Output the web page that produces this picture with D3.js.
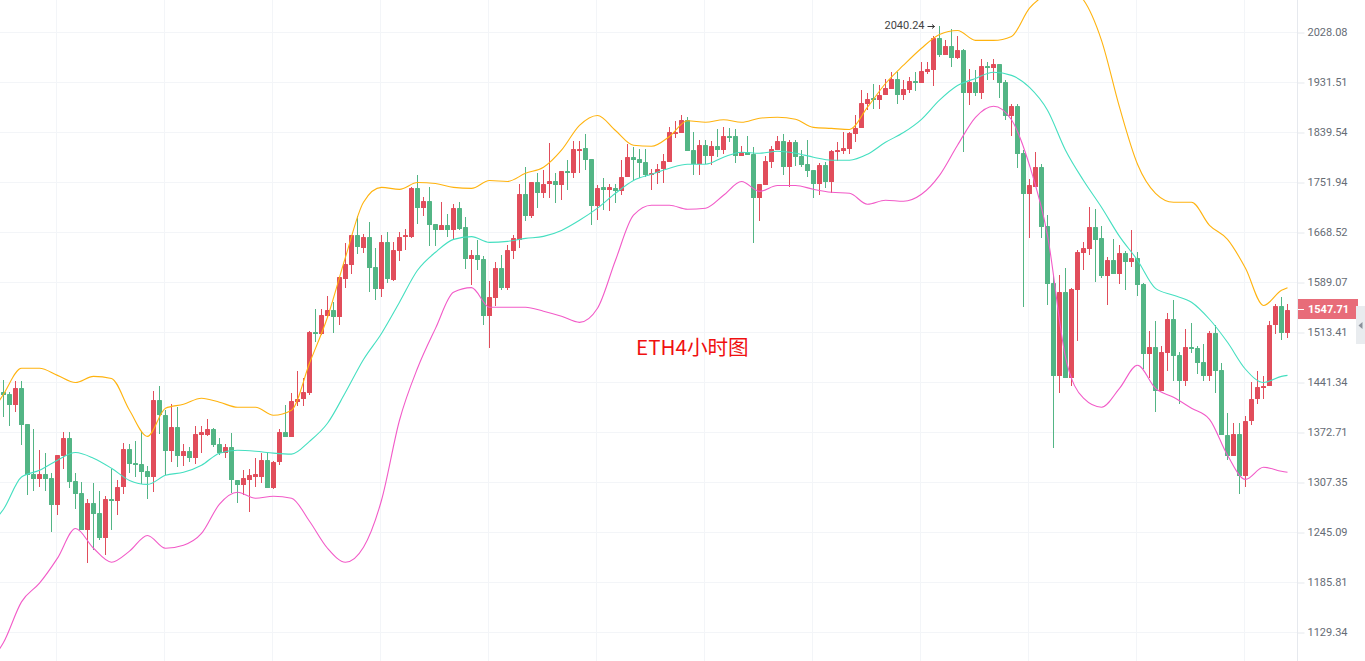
<!DOCTYPE html>
<html lang="zh-CN">
<head>
  <meta charset="UTF-8">
  <title>ETH4小时图</title>
  <script src="https://d3js.org/d3.v7.min.js"></script>
  <style>
    * { margin: 0; padding: 0; }
    html, body { height: 100%; background: #fff; overflow: hidden; }
    svg { display: block; }
    .grid line { stroke: #f3f5f8; stroke-width: 1; }
    .axis path, .axis line { stroke: #e6e9ee; }
    .axis text { font: 11px Roboto, sans-serif; fill: #666c75; }
  </style>
</head>
<body>
  <svg id="chart" width="1365" height="661"></svg>
  <script>
    // ohlc per candle
    var opens = [
      1428,1425,1410,1434,1384,1318,1312,1318,1313,1279,1342,1366,1309,1294,1248,1281,1269,1238,1287,1284,
      1302,1351,1332,1331,1322,1314,1417,1397,1348,1380,1341,1348,1339,1370,1370,1378,1357,1346,1354,1311,
      1304,1311,1315,1315,1337,1300,1334,1374,1367,1414,1418,1426,1514,1511,1538,1547,1537,1595,1616,1664,
      1644,1662,1613,1579,1653,1593,1638,1661,1661,1742,1709,1720,1682,1672,1680,1672,1709,1677,1626,1632,
      1626,1538,1565,1612,1580,1638,1657,1732,1695,1752,1734,1749,1754,1747,1771,1768,1808,1812,1792,1712,
      1744,1740,1742,1737,1761,1796,1792,1787,1764,1768,1775,1787,1838,1838,1862,1808,1784,1817,1798,1815,
      1808,1834,1833,1798,1805,1801,1725,1747,1787,1808,1824,1778,1822,1798,1784,1773,1750,1782,1752,1805,
      1806,1810,1836,1847,1892,1902,1898,1908,1920,1939,1909,1917,1934,1930,1952,1955,2017,1984,2001,1978,
      1993,1911,1933,1911,1962,1959,1966,1933,1869,1887,1803,1732,1745,1778,1679,1588,1451,1574,1447,1577,
      1636,1642,1677,1659,1599,1624,1603,1635,1621,1627,1586,1482,1492,1430,1483,1533,1480,1444,1492,1490,
      1470,1451,1512,1459,1370,1341,1371,1316,1388,1418,1433,1436,1524,1553,1512
    ];
    var highs = [
      1445,1428,1444,1443,1384,1378,1349,1345,1320,1343,1374,1374,1319,1308,1287,1307,1297,1290,1325,1310,
      1359,1358,1361,1374,1328,1429,1436,1403,1411,1407,1358,1354,1381,1381,1391,1379,1365,1358,1372,1311,
      1323,1325,1339,1345,1345,1335,1377,1410,1426,1457,1447,1515,1548,1548,1569,1559,1597,1651,1665,1695,
      1666,1685,1643,1665,1670,1653,1669,1675,1745,1765,1727,1744,1682,1719,1699,1715,1719,1694,1640,1656,
      1630,1591,1621,1632,1648,1665,1750,1778,1752,1768,1773,1820,1769,1771,1791,1825,1825,1836,1792,1748,
      1759,1750,1750,1790,1819,1813,1810,1810,1775,1783,1801,1850,1861,1872,1867,1840,1826,1826,1824,1845,
      1849,1847,1845,1815,1833,1814,1749,1798,1815,1834,1836,1827,1827,1809,1826,1773,1785,1787,1808,1822,
      1840,1841,1871,1917,1912,1929,1926,1939,1951,1951,1937,1941,1951,1971,1971,2022,2040.24,2013,2036,2022,
      1995,1957,1955,1976,1970,1976,1966,1937,1892,1891,1808,1758,1805,1784,1697,1600,1600,1611,1580,1641,
      1653,1711,1707,1679,1629,1658,1648,1638,1672,1637,1588,1515,1530,1494,1542,1562,1485,1518,1528,1494,
      1496,1515,1524,1469,1399,1385,1385,1395,1442,1457,1451,1531,1556,1566,1556
    ];
    var lows = [
      1394,1381,1401,1356,1292,1297,1301,1297,1246,1267,1325,1300,1274,1248,1208,1224,1236,1218,1248,1266,
      1293,1320,1314,1306,1287,1295,1371,1317,1334,1327,1329,1334,1331,1346,1368,1354,1343,1339,1294,1282,
      1292,1270,1302,1307,1300,1299,1330,1367,1367,1408,1408,1424,1499,1510,1537,1513,1524,1581,1602,1634,
      1635,1574,1562,1566,1589,1591,1623,1640,1659,1683,1695,1646,1646,1672,1662,1656,1672,1610,1585,1608,
      1525,1491,1553,1577,1578,1626,1643,1687,1693,1709,1725,1725,1717,1722,1739,1759,1768,1774,1680,1689,
      1705,1704,1718,1730,1761,1757,1759,1762,1740,1749,1751,1787,1829,1838,1806,1764,1764,1784,1782,1796,
      1801,1822,1785,1797,1799,1652,1688,1747,1777,1808,1764,1744,1780,1778,1762,1725,1730,1742,1734,1789,
      1801,1801,1822,1847,1880,1882,1883,1908,1920,1891,1898,1911,1915,1930,1948,1924,1980,1984,1961,1976,
      1804,1890,1906,1900,1937,1937,1902,1862,1834,1777,1552,1660,1745,1659,1554,1352,1426,1447,1436,1501,
      1608,1632,1590,1596,1555,1603,1587,1578,1613,1568,1460,1448,1401,1430,1458,1444,1411,1437,1483,1453,
      1444,1444,1426,1369,1336,1341,1293,1301,1383,1411,1419,1436,1511,1503,1506
    ];
    var closes = [
      1424,1410,1434,1383,1317,1312,1318,1312,1279,1343,1366,1308,1293,1248,1281,1268,1238,1287,1284,1302,
      1351,1331,1330,1321,1314,1417,1397,1348,1380,1341,1348,1339,1371,1373,1378,1356,1345,1354,1310,1304,
      1313,1317,1318,1337,1300,1334,1374,1367,1415,1419,1428,1514,1511,1539,1547,1537,1597,1618,1664,1645,
      1662,1611,1579,1653,1594,1640,1662,1664,1742,1709,1720,1680,1672,1680,1672,1709,1675,1626,1632,1624,
      1538,1566,1612,1580,1640,1659,1732,1695,1752,1734,1750,1754,1747,1771,1768,1810,1811,1791,1712,1742,
      1740,1744,1737,1762,1796,1791,1785,1764,1769,1776,1789,1840,1841,1862,1806,1784,1817,1798,1815,1808,
      1833,1831,1798,1805,1799,1725,1749,1789,1810,1824,1778,1822,1796,1782,1771,1750,1782,1752,1806,1808,
      1812,1838,1848,1894,1900,1898,1909,1922,1939,1909,1919,1934,1930,1953,1957,2017,1984,2001,1978,1993,
      1911,1933,1911,1962,1959,1966,1931,1869,1887,1801,1732,1747,1778,1677,1586,1451,1574,1447,1579,1637,
      1644,1677,1657,1599,1624,1603,1635,1621,1627,1585,1482,1492,1430,1485,1533,1479,1444,1492,1489,1469,
      1451,1512,1457,1369,1341,1371,1316,1388,1419,1435,1437,1525,1553,1512,1547.71
    ];

    // bollinger bands, read at every third candle plus both ends (-1 sits just off the left edge)
    var bandIndex = [-1].concat(d3.range(0, 214, 3), [214]);
    var upperBand = [
      1412,1425,1461.5,1461.5,1451.4,1441.3,1450,1447.1,1402.9,1367.5,1405.6,1411,1419.4,1413.9,1407,1407,1396,1402.9,1468.7,1536.1,1628.8,
      1718.6,1743.6,1740.3,1751.9,1750.3,1743.6,1741.9,1755.4,1753.7,1767.7,1778.2,1808.1,1852.4,1870.4,1843.2,1816.8,1815,1832.5,1860.8,1858,
      1862.6,1858,1865.3,1867.1,1863.4,1848.7,1846.9,1845,1885.5,1929.6,1964.4,1997.2,2024.2,2032.1,2012.6,2012.6,2020.4,2076.8,2106.4,2119,
      2093.4,2012.6,1885.5,1783.5,1733.6,1718.6,1718.6,1680.2,1657.4,1611.3,1553.9,1577,1581.1
    ];
    var middleBand = [
      1264,1273.7,1314.3,1323,1336.1,1346.2,1338.7,1325.6,1310,1304.9,1316.5,1320.4,1329.6,1345.3,1349.2,1347.9,1345.3,1344,1360.9,1385.1,1427.6,
      1474.1,1512,1558.8,1608.1,1636.7,1657.4,1661.9,1652.6,1654.2,1659,1662.2,1671.9,1688.5,1708.6,1733.6,1755.4,1766,1776.5,1783.5,1783.5,
      1795.7,1804.5,1802.7,1806.2,1802.7,1795.7,1790.5,1790.5,1801,1822,1839.5,1863.4,1898.4,1925.7,1939.2,1950.8,1945,1922.3,1880,1808,
      1755.4,1710.2,1662.2,1624,1580,1569.4,1558.8,1533.1,1499,1460.1,1441.3,1450,1451.4
    ];
    var lowerBand = [
      1108,1118.4,1163.6,1185,1214.3,1250,1226.1,1209.5,1222.6,1241.5,1226.1,1229.7,1243.9,1280,1294.9,1287.4,1289.9,1287.4,1258.8,1226.1,1209.5,
      1227.3,1284.9,1389.2,1461.5,1519.5,1574,1581.1,1551.2,1551.2,1551.2,1545.2,1537.6,1528.5,1549.7,1624,1696.9,1713.6,1713.6,1706.9,1708.6,
      1730.2,1753.7,1736.9,1746.9,1746.9,1740.3,1735.3,1733.6,1715.2,1721.9,1720.2,1731.9,1764.2,1816.8,1867.1,1887.4,1862.6,1781.7,1663.8,1477.4,
      1419.4,1407,1433.1,1465.9,1433.1,1420.7,1405.6,1390.5,1342.6,1311.3,1326.9,1321.7,1320.4
    ];
    var priceTicks = [2028.08,1931.51,1839.54,1751.94,1668.52,1589.07,1513.41,1441.34,1372.71,1307.35,1245.09,1185.81,1129.34];
    var lastPrice = 1547.71;
    var highPrice = 2040.24;
    var highIndex = 156;
    var title = 'ETH4小时图';

    var plotRight = 1297;
    var upCol = '#e14d5b', downCol = '#53b585';

    var svg = d3.select('#chart');
    var x = d3.scaleLinear().domain([0, 214]).range([3.5, 1287.5]);
    var y = d3.scaleLog().domain([2028.08, 1129.34]).range([32.5, 632.5]);

    // grid, vertical lines every 18 candles
    var grid = svg.append('g').attr('class', 'grid');
    grid.selectAll('.v').data(d3.range(9, 215, 18)).enter().append('line')
      .attr('x1', function(d) { return x(d) - 1; })
      .attr('x2', function(d) { return x(d) - 1; })
      .attr('y1', 0).attr('y2', 661);
    grid.selectAll('.h').data(priceTicks).enter().append('line')
      .attr('x1', 0).attr('x2', plotRight)
      .attr('y1', function(d) { return y(d); })
      .attr('y2', function(d) { return y(d); });

    svg.append('clipPath').attr('id', 'plot')
      .append('rect').attr('width', plotRight).attr('height', 661);

    var plot = svg.append('g').attr('clip-path', 'url(#plot)');

    // candles
    var candles = plot.selectAll('.candle').data(d3.range(opens.length)).enter().append('g');
    function col(i) { return closes[i] >= opens[i] ? upCol : downCol; }
    candles.append('line')
      .attr('x1', function(i) { return x(i); })
      .attr('x2', function(i) { return x(i); })
      .attr('y1', function(i) { return Math.round(y(highs[i])); })
      .attr('y2', function(i) { return Math.round(y(lows[i])); })
      .attr('stroke', col);
    candles.append('rect')
      .attr('x', function(i) { return x(i) - 2.5; })
      .attr('width', 5)
      .attr('y', function(i) { return Math.round(y(Math.max(opens[i], closes[i]))); })
      .attr('height', function(i) {
        return Math.max(2, Math.round(y(Math.min(opens[i], closes[i]))) - Math.round(y(Math.max(opens[i], closes[i]))));
      })
      .attr('rx', 0.6)
      .attr('fill', col);

    // bands over the candles
    function band(values, colour) {
      var line = d3.line()
        .curve(d3.curveMonotoneX)
        .x(function(d, k) { return x(bandIndex[k]); })
        .y(function(d) { return y(d); });
      plot.append('path').attr('d', line(values))
        .attr('fill', 'none').attr('stroke', colour).attr('stroke-width', 1.1);
    }
    band(upperBand, '#ffb30f');
    band(middleBand, '#45dfc0');
    band(lowerBand, '#f25bc8');

    // price axis
    var axis = d3.axisRight(y).tickValues(priceTicks).tickFormat(d3.format('.2f')).tickSize(7).tickPadding(3);
    svg.append('g').attr('class', 'axis')
      .attr('transform', 'translate(' + (plotRight + 0.5) + ',0)')
      .call(axis)
      .call(function(g) {
        g.select('.domain').attr('d', 'M0,0V661');
        g.selectAll('text').attr('dy', '0.24em');
      });

    // last price tag
    var lastY = y(lastPrice);
    svg.append('rect').attr('x', 1298).attr('y', Math.round(lastY) - 11).attr('width', 60).attr('height', 20).attr('fill', '#e86c79');
    svg.append('line').attr('x1', 1298).attr('x2', 1304)
      .attr('y1', Math.round(lastY) - 0.5).attr('y2', Math.round(lastY) - 0.5).attr('stroke', '#fff');
    svg.append('text').attr('x', 1308).attr('y', lastY + 3)
      .style('font', 'bold 11px Roboto, sans-serif').attr('fill', '#fff').text(d3.format('.2f')(lastPrice));

    // side tab
    svg.append('rect').attr('x', 1356).attr('y', 306).attr('width', 9).attr('height', 38).attr('fill', '#e9ecef');
    svg.append('path').attr('d', 'M1358.5,325.5l4,-3.5v7z').attr('fill', '#8b909a');

    // high marker
    var highX = x(highIndex);
    svg.append('text').attr('x', highX - 15).attr('y', y(highPrice) + 2.5).attr('text-anchor', 'end')
      .style('font', '11px Roboto, sans-serif').attr('fill', '#444').text(d3.format('.2f')(highPrice));
    svg.append('path').attr('d', 'M' + (highX - 12) + ',26.5h7M' + (highX - 7.5) + ',24.5l2.5,2l-2.5,2')
      .attr('fill', 'none').attr('stroke', '#333');

    // red note
    svg.append('text').attr('x', 636).attr('y', 355)
      .style('font', '20.6px "Noto Sans CJK SC", sans-serif').attr('fill', '#f01010').text(title);
  </script>
</body>
</html>
